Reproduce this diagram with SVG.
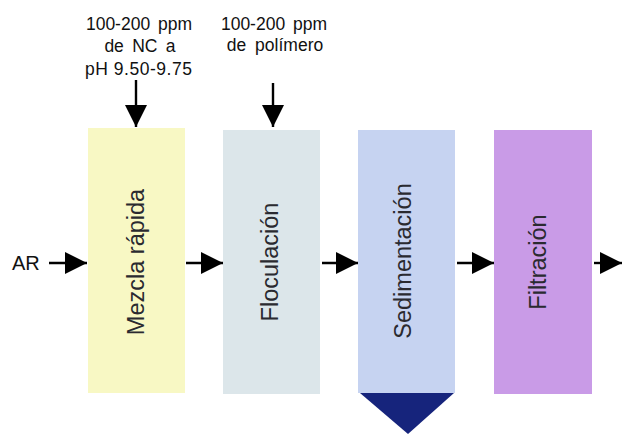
<svg xmlns="http://www.w3.org/2000/svg" width="622" height="435" viewBox="0 0 622 435">
<defs>
<style>
.lbl{font-family:"Liberation Sans",Arial,sans-serif;font-size:17.5px;fill:#111;text-anchor:middle}
.box{font-family:"Liberation Sans",Arial,sans-serif;font-size:23.5px;fill:#2a2a30;text-anchor:middle}
.ln{stroke:#000;stroke-width:2.4;fill:none}
</style>
<marker id="ah" markerUnits="userSpaceOnUse" markerWidth="24" markerHeight="22" refX="22" refY="11" orient="auto">
<path d="M0,0 L22,11 L0,22 Z" fill="#000"/>
</marker>
</defs>
<rect width="622" height="435" fill="#fff"/>
<g id="label-nc">
<text class="lbl" x="139" y="30" word-spacing="3">100-200 ppm</text>
<text class="lbl" x="140" y="52" word-spacing="3.5">de NC a</text>
<text class="lbl" x="138.5" y="75" textLength="107" lengthAdjust="spacing">pH 9.50-9.75</text>
</g>
<g id="label-pol">
<text class="lbl" x="274" y="30" word-spacing="3">100-200 ppm</text>
<text class="lbl" x="275" y="51" word-spacing="4">de polímero</text>
</g>
<g id="ar">
<text x="12" y="270" font-family="Liberation Sans,Arial,sans-serif" font-size="20" fill="#111">AR</text>
</g>
<g id="mezcla">
<rect x="88" y="128" width="97" height="265" fill="#f8f8c4"/>
<text class="box" transform="translate(144,262) rotate(-90)">Mezcla rápida</text>
</g>
<g id="floculacion">
<rect x="223" y="130" width="97" height="264" fill="#dce6ea"/>
<text class="box" transform="translate(278,262) rotate(-90)">Floculación</text>
</g>
<g id="sedimentacion">
<rect x="358" y="130" width="97" height="263" fill="#c6d3f1"/>
<polygon points="360,393 454,393 408,434" fill="#16247c"/>
<text class="box" transform="translate(411,261) rotate(-90)">Sedimentación</text>
</g>
<g id="filtracion">
<rect x="494" y="130" width="98" height="264" fill="#c99be7"/>
<text class="box" transform="translate(546,262) rotate(-90)">Filtración</text>
</g>
<g id="connectors">
<line class="ln" x1="49" y1="263" x2="87" y2="263" marker-end="url(#ah)"/>
<line class="ln" x1="186" y1="263" x2="223" y2="263" marker-end="url(#ah)"/>
<line class="ln" x1="322" y1="263" x2="358" y2="263" marker-end="url(#ah)"/>
<line class="ln" x1="457" y1="263" x2="494" y2="263" marker-end="url(#ah)"/>
<line class="ln" x1="594" y1="263" x2="622" y2="263" marker-end="url(#ah)"/>
<line class="ln" x1="136" y1="80" x2="136" y2="127" marker-end="url(#ah)"/>
<line class="ln" x1="273" y1="83" x2="273" y2="127" marker-end="url(#ah)"/>
</g>
</svg>
